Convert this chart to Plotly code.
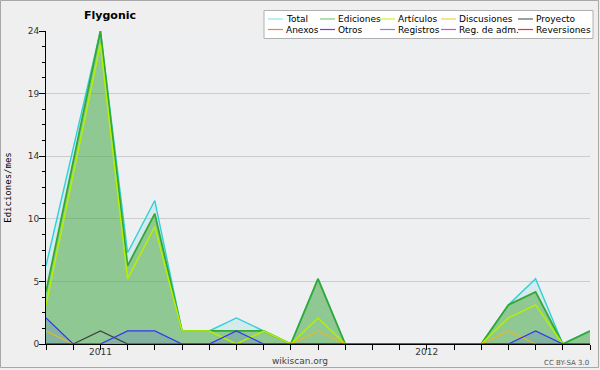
import plotly.graph_objects as go

# ---------------- data ----------------
months = ["2010-11", "2010-12", "2011-01", "2011-02", "2011-03", "2011-04", "2011-05",
          "2011-06", "2011-07", "2011-08", "2011-09", "2011-10", "2011-11", "2011-12",
          "2012-01", "2012-02", "2012-03", "2012-04", "2012-05", "2012-06", "2012-07"]
month_labels = ["", "", "2011", "", "", "", "", "", "", "", "", "", "", "",
                "2012", "", "", "", "", "", ""]

total       = [6, 15, 24, 7, 11, 1, 1, 2, 1, 0, 5, 0, 0, 0, 0, 0, 0, 3, 5, 0, 1]
ediciones   = [4, 14, 24, 6, 10, 1, 1, 1, 1, 0, 5, 0, 0, 0, 0, 0, 0, 3, 4, 0, 1]
articulos   = [3, 13, 23, 5, 9, 1, 1, 0, 1, 0, 2, 0, 0, 0, 0, 0, 0, 2, 3, 0, 0]
discusiones = [1, 0, 0, 0, 0, 0, 0, 0, 0, 0, 1, 0, 0, 0, 0, 0, 0, 1, 0, 0, 0]
proyecto    = [0, 0, 1, 0, 0, 0, 0, 0, 0, 0, 0, 0, 0, 0, 0, 0, 0, 0, 0, 0, 0]
anexos      = [0] * 21
otros       = [0] * 21
registros   = [2, 0, 0, 1, 1, 0, 0, 1, 0, 0, 0, 0, 0, 0, 0, 0, 0, 0, 1, 0, 0]
reg_adm     = [0] * 21
reversiones = [0] * 21

y_tickvals = [0, 4.8, 9.6, 14.4, 19.2, 24]
y_ticktext = ["0", "5", "10", "14", "19", "24"]
y_minor = [1.2, 2.4, 3.6, 6.0, 7.2, 8.4, 10.8, 12.0, 13.2, 15.6, 16.8, 18.0, 20.4, 21.6, 22.8]

legend_names = ["Total", "Ediciones", "Artículos", "Discusiones", "Proyecto",
                "Anexos", "Otros", "Registros", "Reg. de adm.", "Reversiones"]
legend_colors = ["#8ee6e6", "#7ccc7c", "#c8f040", "#f8d040", "#606060",
                 "#f08040", "#8a30e0", "#8080ff", "#e040f0", "#f03030"]

# ---------------- figure ----------------
W, H = 600, 370
L, R, T, B = 46, 10, 31, 26
PW, PH = W - L - R, H - T - B

def px(x):
    return (x - L) / PW

def py(y):
    return (H - B - y) / PH

FONT = "DejaVu Sans"
fig = go.Figure()

# fills
fig.add_trace(go.Scatter(x=months, y=total, mode="none", fill="tozeroy",
                         fillcolor="rgba(64,208,208,0.15)", showlegend=False, hoverinfo="skip"))
fig.add_trace(go.Scatter(x=months, y=ediciones, mode="none", fill="tozeroy",
                         fillcolor="rgba(60,160,40,0.45)", showlegend=False, hoverinfo="skip"))
fig.add_trace(go.Scatter(x=months, y=registros, mode="none", fill="tozeroy",
                         fillcolor="rgba(64,64,240,0.15)", showlegend=False, hoverinfo="skip"))

# lines
series = [
    ("Anexos", anexos, "#f08040", 1.2),
    ("Otros", otros, "#8a30e0", 1.2),
    ("Reg. de adm.", reg_adm, "#e040f0", 1.2),
    ("Reversiones", reversiones, "#f03030", 1.2),
    ("Total", total, "#30d0d8", 1.4),
    ("Ediciones", ediciones, "#34a834", 1.8),
    ("Artículos", articulos, "#b4f000", 1.5),
    ("Discusiones", discusiones, "#e8b820", 1.2),
    ("Proyecto", proyecto, "#404040", 1.2),
    ("Registros", registros, "#3535f0", 1.2),
]
for name, vals, col, lw in series:
    fig.add_trace(go.Scatter(x=months, y=vals, mode="lines", name=name,
                             line=dict(color=col, width=lw), showlegend=False))

fig.update_layout(
    width=W, height=H,
    margin=dict(l=L, r=R, t=T, b=B, autoexpand=False),
    paper_bgcolor="#efefef",
    plot_bgcolor="#eeeff1",
    font=dict(family=FONT, size=9, color="#333333"),
    showlegend=False,
    xaxis=dict(
        type="category", range=[0, len(months) - 1],
        tickmode="array", tickvals=months, ticktext=month_labels,
        ticks="outside", ticklen=5, tickcolor="#000000", tickwidth=1,
        ticklabelstandoff=-6,
        showline=True, linecolor="#000000", linewidth=1,
        showgrid=False, zeroline=False,
        tickfont=dict(family=FONT, size=9, color="#333333"),
        fixedrange=True,
    ),
    yaxis=dict(
        range=[0, 24],
        tickmode="array", tickvals=y_tickvals, ticktext=y_ticktext,
        ticks="outside", ticklen=6, tickcolor="#000000", tickwidth=1,
        ticklabelstandoff=-2,
        minor=dict(tickmode="array", tickvals=y_minor, ticks="outside", ticklen=3,
                   tickcolor="#000000", showgrid=False),
        showline=True, linecolor="#000000", linewidth=1,
        showgrid=True, gridcolor="#cccccc", gridwidth=1,
        zeroline=False,
        tickfont=dict(family=FONT, size=9, color="#333333"),
        title=dict(text="Ediciones/mes", font=dict(family="DejaVu Sans Mono", size=9, color="#000000"),
                   standoff=14),
        fixedrange=True,
    ),
)

# title
fig.add_annotation(text="<b>Flygonic</b>", xref="paper", yref="paper",
                   x=px(110), y=py(15), xanchor="center", yanchor="middle", showarrow=False,
                   font=dict(family=FONT, size=11, color="#000000"))

# credit texts
fig.add_annotation(text="wikiscan.org", xref="paper", yref="paper",
                   x=px(300), y=py(361), xanchor="center", yanchor="middle", showarrow=False,
                   font=dict(family=FONT, size=9, color="#444444"))
fig.add_annotation(text="CC BY-SA 3.0", xref="paper", yref="paper",
                   x=px(591), y=py(362.5), xanchor="right", yanchor="middle", showarrow=False,
                   font=dict(family=FONT, size=7, color="#555555"))

# outer border
fig.add_shape(type="rect", xref="paper", yref="paper",
              x0=px(0.5), x1=px(598.5), y0=py(367.5), y1=py(0.5),
              line=dict(color="#a8a8a8", width=1), fillcolor="rgba(0,0,0,0)", layer="above")

# legend box
fig.add_shape(type="rect", xref="paper", yref="paper",
              x0=px(264), x1=px(593), y0=py(38.5), y1=py(10.5),
              line=dict(color="#b0b0b0", width=1), fillcolor="#ffffff", layer="above")

col_x = [268, 320, 380, 441, 518]
row_y = [19, 29.5]
for i, (name, col) in enumerate(zip(legend_names, legend_colors)):
    cx = col_x[i % 5]
    ry = row_y[i // 5]
    fig.add_shape(type="line", xref="paper", yref="paper",
                  x0=px(cx), x1=px(cx + 15), y0=py(ry), y1=py(ry),
                  line=dict(color=col, width=1.2), layer="above")
    fig.add_annotation(text=name, xref="paper", yref="paper",
                       x=px(cx + 16), y=py(ry), xanchor="left", yanchor="middle",
                       showarrow=False, font=dict(family=FONT, size=9, color="#000000"))

fig.write_html("out.html", config={"displayModeBar": False},
               post_script="document.body.style.margin='0';document.body.style.padding='0';")
